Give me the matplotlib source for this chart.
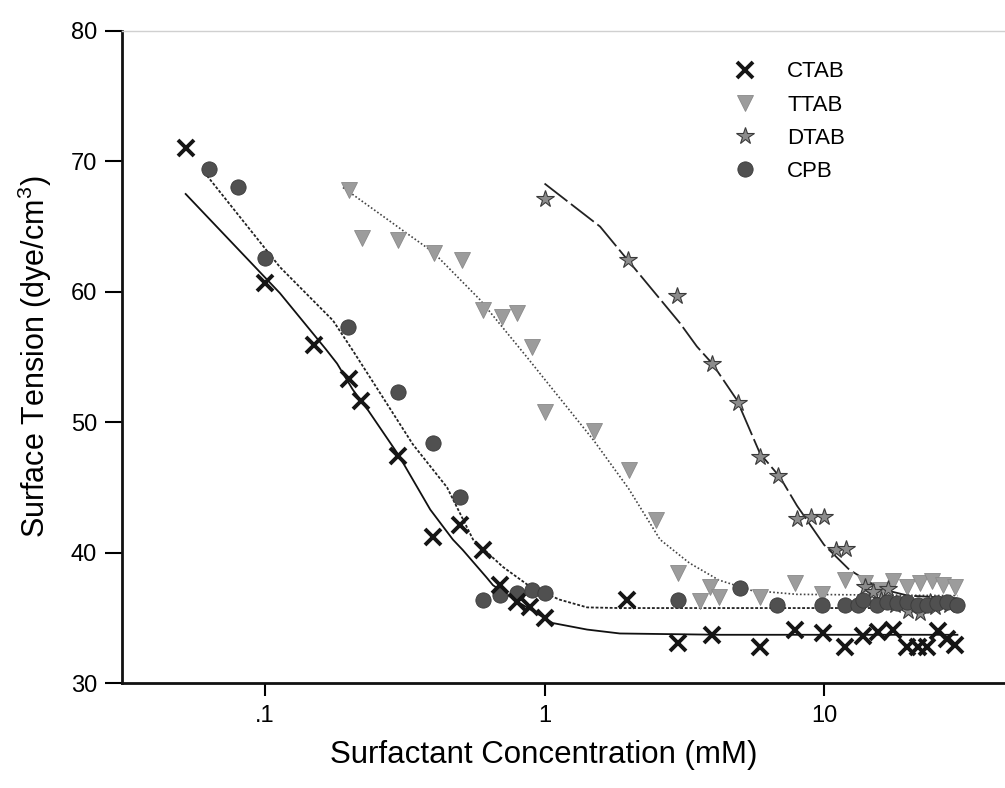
import matplotlib
matplotlib.use('Agg')
import matplotlib.pyplot as plt
from matplotlib.ticker import NullLocator

plt.rcParams['font.family'] = ['Liberation Sans', 'DejaVu Sans']
plt.rcParams['mathtext.fontset'] = 'custom'
plt.rcParams['mathtext.rm'] = 'Liberation Sans'

# ---------------- data ----------------
ctab_x = [0.052, 0.1, 0.15, 0.2, 0.22, 0.3, 0.4, 0.5, 0.6, 0.69, 0.8, 0.89, 1.0,
          1.97, 3.0, 3.96, 5.9, 7.9, 9.9, 11.9, 13.8, 15.6, 17.7, 19.8, 21.6,
          23.4, 25.6, 27.6, 29.5]
ctab_y = [71.0, 60.7, 55.9, 53.3, 51.6, 47.4, 41.2, 42.1, 40.2, 37.5, 36.2, 35.8, 35.0,
          36.4, 33.1, 33.7, 32.8, 34.1, 33.8, 32.8, 33.6, 33.9, 34.1, 32.8, 32.8,
          32.8, 34.0, 33.4, 32.9]

ttab_x = [0.2, 0.222, 0.3, 0.402, 0.507, 0.603, 0.705, 0.8, 0.9, 1.0, 1.5, 2.0, 2.5,
          3.0, 3.6, 3.9, 4.2, 5.9, 7.9, 9.8, 11.9, 14.0, 15.8, 17.6, 19.8, 22.0,
          24.4, 26.6, 29.4]
ttab_y = [67.8, 64.1, 64.0, 63.0, 62.4, 58.6, 58.1, 58.4, 55.8, 50.8, 49.3, 46.3, 42.5,
          38.4, 36.3, 37.4, 36.6, 36.6, 37.7, 36.8, 37.9, 37.7, 37.1, 37.8, 37.4, 37.7,
          37.8, 37.5, 37.4]

dtab_x = [1.0, 1.99, 2.98, 3.98, 4.93, 5.9, 6.85, 8.0, 9.0, 10.0, 11.0, 12.0, 14.0,
          15.0, 16.0, 17.0, 18.0, 20.0, 22.0, 24.0, 25.0, 28.0]
dtab_y = [67.1, 62.4, 59.7, 54.5, 51.5, 47.3, 45.9, 42.6, 42.7, 42.7, 40.2, 40.3, 37.4,
          37.0, 36.4, 37.2, 36.0, 35.5, 35.4, 36.2, 35.8, 36.0]

cpb_x = [0.063, 0.08, 0.1, 0.198, 0.3, 0.4, 0.5, 0.6, 0.69, 0.8, 0.9, 1.0, 3.0, 5.0,
         6.8, 9.8, 11.9, 13.2, 13.8, 15.5, 16.8, 18.3, 19.8, 21.6, 23.4, 25.4, 27.5, 29.9]
cpb_y = [69.4, 68.0, 62.6, 57.3, 52.3, 48.4, 44.3, 36.4, 36.75, 36.9, 37.1, 36.9, 36.4,
         37.3, 36.0, 36.0, 36.0, 36.0, 36.4, 36.0, 36.2, 36.1, 36.2, 36.0, 36.0, 36.1,
         36.2, 36.0]

# fitted curves
ctab_fit_x = [0.052, 0.113, 0.165, 0.181, 0.206, 0.234, 0.30, 0.39, 0.47, 0.51, 0.62,
              0.654, 0.82, 1.07, 1.42, 1.86, 4.25, 30.0]
ctab_fit_y = [67.5, 59.9, 55.6, 54.5, 52.5, 50.9, 47.5, 43.3, 41.0, 40.2, 38.1,
              37.5, 36.1, 34.6, 34.1, 33.8, 33.7, 33.7]

cpb_fit_x = [0.062, 0.113, 0.175, 0.206, 0.264, 0.338, 0.448, 0.555, 0.71, 0.887, 1.13,
             1.42, 1.86, 30.0]
cpb_fit_y = [68.9, 61.9, 57.8, 55.5, 51.9, 48.3, 45.0, 41.0, 38.9, 37.4, 36.4,
             35.8, 35.75, 35.75]

ttab_fit_x = [0.19, 0.316, 0.399, 0.587, 0.864, 1.0, 1.5, 2.0, 2.59, 3.3, 4.2, 5.5,
              8.0, 30.0]
ttab_fit_y = [68.0, 64.6, 63.05, 59.4, 55.0, 53.3, 48.6, 44.9, 41.0, 39.2, 37.9, 37.1,
              36.8, 36.7]

dtab_fit_x = [1.0, 1.58, 1.99, 3.05, 3.51, 3.98, 4.88, 5.9, 6.95, 8.0, 10.0, 12.3,
              14.6, 16.8, 20.0, 30.0]
dtab_fit_y = [68.3, 65.0, 62.4, 57.6, 55.8, 54.5, 51.7, 47.6, 45.8, 43.6, 40.6, 38.7,
              37.7, 37.1, 36.7, 36.5]

labels = ['CTAB', 'TTAB', 'DTAB', 'CPB']
x_ticks = [0.1, 1, 10]
x_ticklabels = ['.1', '1', '10']
y_ticks = [30, 40, 50, 60, 70, 80]

# ---------------- figure ----------------
fig = plt.figure(figsize=(10.05, 7.88), dpi=100)
ax = fig.add_axes([0.1214, 0.1332, 0.8786, 0.8275])
ax.set_xscale('log')
ax.set_xlim(0.03078, 44.4)
ax.set_ylim(30, 80)

# fit lines
ax.plot(ctab_fit_x, ctab_fit_y, color='#111111', lw=1.3, ls='-', zorder=2)
ax.plot(cpb_fit_x, cpb_fit_y, color='#222222', lw=1.3, ls=(0, (1.6, 1.0)), zorder=2)
ax.plot(ttab_fit_x, ttab_fit_y, color='#444444', lw=1.2, ls=(0, (1.0, 1.3)), zorder=2)
ax.plot(dtab_fit_x, dtab_fit_y, color='#222222', lw=1.3, ls=(0, (16, 2.5)), zorder=2)

# markers
h1, = ax.plot(ctab_x, ctab_y, ls='none', marker='x', ms=11, mew=2.8, color='#151515', zorder=5)
h2, = ax.plot(ttab_x, ttab_y, ls='none', marker='v', ms=12, mfc='#9c9c9c', mec='#8a8a8a',
              mew=0.6, zorder=4)
h3, = ax.plot(dtab_x, dtab_y, ls='none', marker='*', ms=13, mfc='#8c8c8c', mec='#3a3a3a',
              mew=0.8, zorder=4)
h4, = ax.plot(cpb_x, cpb_y, ls='none', marker='o', ms=11, mfc='#505050', mec='#3a3a3a',
              mew=0.6, zorder=4)

ax.legend([h1, h2, h3, h4], labels, loc='upper left', bbox_to_anchor=(0.728, 0.922),
          bbox_transform=fig.transFigure, frameon=False, fontsize=16,
          handlelength=1.2, handletextpad=1.3, labelspacing=0.55, borderpad=0,
          borderaxespad=0)

ax.set_xticks(x_ticks)
ax.set_xticklabels(x_ticklabels)
ax.xaxis.set_minor_locator(NullLocator())
ax.set_yticks(y_ticks)
ax.tick_params(axis='y', direction='out', length=12, width=1.5, labelsize=17, pad=6)
ax.tick_params(axis='x', direction='out', length=9, width=1.5, labelsize=17, pad=7)

for s in ['left', 'bottom']:
    ax.spines[s].set_linewidth(2.0)
    ax.spines[s].set_color('#111111')
ax.spines['top'].set_linewidth(1.0)
ax.spines['top'].set_color('#d0d0d0')
ax.spines['right'].set_visible(False)

ax.set_xlabel('Surfactant Concentration (mM)', fontsize=22.5)
ax.xaxis.set_label_coords(0.478, -0.088)
ax.set_ylabel(r'Surface Tension (dye/cm$\mathregular{^3}$)', fontsize=22, labelpad=12)

fig.savefig('out.png', dpi=100)
